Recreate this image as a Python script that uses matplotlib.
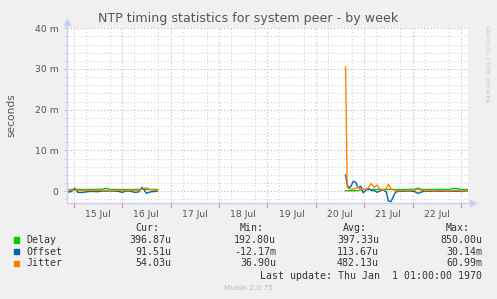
import matplotlib
matplotlib.use('Agg')
import matplotlib.pyplot as plt
import matplotlib.transforms as mtransforms
from matplotlib.ticker import MultipleLocator, FixedLocator, FuncFormatter
from matplotlib.patches import Rectangle

# hours since 15 Jul 00:00, values in milliseconds
hours_a = [-3.5, -1, 0.5, 2, 4, 6, 8, 10, 12, 14, 16, 18, 20, 22, 24, 26,
           28, 30, 32, 34, 36, 38, 40, 41.5]
delay_a = [0.3, 0.4, 0.4, 0.4, 0.4, 0.4, 0.4, 0.4, 0.45, 0.4, 0.7, 0.4,
           0.4, 0.4, 0.4, 0.4, 0.4, 0.4, 0.4, 0.45, 0.4, 0.4, 0.4, 0.4]
offset_a = [-0.3, -0.1, 0.7, -0.3, -0.35, -0.2, -0.1, -0.1, -0.15, 0.0, 0.0,
            0.05, 0.0, -0.05, -0.3, 0.0, 0.0, -0.3, -0.25, 0.9, -0.55, -0.2,
            -0.1, 0.0]
jitter_a = [0.2, 0.2, 0.25, 0.2, 0.15, 0.2, 0.15, 0.2, 0.2, 0.15, 0.2, 0.2,
            0.15, 0.2, 0.2, 0.15, 0.2, 0.2, 0.2, 0.5, 0.8, 0.3, 0.2, 0.15]

hours_b = [134.8, 135.6, 136.5, 137.5, 138.6, 139.8, 141, 142.3, 143.5, 144.7,
           146, 147.5, 149, 150.5, 152, 153.5, 155, 156, 157.3, 158.4, 159.6,
           161, 163, 165, 167, 169, 170.7, 172, 174, 176, 178, 180, 182, 184,
           186, 188, 190, 192, 194, 195.5]
delay_b = [0.1, 0.1, 0.1, 0.1, 0.1, 0.1, 0.15, 0.3, 0.4, 0.4, 0.4, 0.4, 0.4,
           0.4, 0.4, 0.4, 0.4, 0.4, 0.4, 0.4, 0.4, 0.4, 0.4, 0.4, 0.4, 0.45,
           0.75, 0.45, 0.4, 0.4, 0.4, 0.4, 0.45, 0.4, 0.4, 0.65, 0.6, 0.4, 0.4,
           0.4]
offset_b = [3.9, 1.5, 0.8, 1.2, 2.4, 2.2, 0.8, 1.2, -0.4, 0.1, 0.6, 0.2, 0.1,
            -0.3, 0.1, 0.3, -0.2, -2.4, -2.6, -1.4, -0.3, 0.0, -0.05, 0.0, 0.0,
            -0.1, -0.55, -0.3, 0.0, -0.05, 0.0, 0.0, -0.05, 0.0, 0.0, 0.0,
            -0.05, 0.0, 0.0, 0.05]
jitter_b = [30.5, 0.9, 0.6, 0.5, 0.55, 0.65, 1.1, 0.4, 0.5, 0.4, 0.8, 1.9,
            0.9, 1.5, 0.3, 0.3, 0.6, 1.7, 0.6, 0.3, 0.2, 0.15, 0.15, 0.15,
            0.15, 0.2, 0.5, 0.2, 0.15, 0.15, 0.15, 0.15, 0.15, 0.15, 0.15,
            0.2, 0.15, 0.15, 0.15, 0.15]

day_labels = ['15 Jul', '16 Jul', '17 Jul', '18 Jul', '19 Jul', '20 Jul',
              '21 Jul', '22 Jul']

series = [('Delay', '#00cc00', delay_a, delay_b),
          ('Offset', '#0066b3', offset_a, offset_b),
          ('Jitter', '#ff8000', jitter_a, jitter_b)]
stats = [('396.87u', '192.80u', '397.33u', '850.00u'),
         ('91.51u', '-12.17m', '113.67u', '30.14m'),
         ('54.03u', '36.90u', '482.13u', '60.99m')]

W, H = 497, 299
fig = plt.figure(figsize=(W / 100, H / 100), dpi=100, facecolor='#f0f0f0')


def fx(px):
    return px / W


def fy(py):
    return 1 - py / H


ax = fig.add_axes([fx(66.7), fy(203.3), fx(468) - fx(66.7), fy(28.3) - fy(203.3)])
ax.set_facecolor('white')
ax.set_xlim(-3.5, 195.5)
ax.set_ylim(-3.0, 40.0)

for name, color, ya, yb in series:
    ax.plot(hours_a, ya, color=color, lw=1.0)
    ax.plot(hours_b, yb, color=color, lw=1.0)

# grid: gray every 6h / 2 ms, red every day / 10 ms
ax.xaxis.set_minor_locator(MultipleLocator(6))
ax.yaxis.set_minor_locator(MultipleLocator(2))
ax.grid(which='minor', color='#d4d4d4', linestyle=(0, (1, 2)), lw=0.8)
ax.yaxis.set_major_locator(MultipleLocator(10))
ax.grid(which='major', axis='y', color='#eba3a3', linestyle=(0, (1, 2)), lw=0.8)
trans = mtransforms.blended_transform_factory(ax.transData, ax.transAxes)
for d in range(9):
    ax.axvline(d * 24, color='#eba3a3', linestyle=(0, (1, 2)), lw=0.8, zorder=0.5)
    # small red tick below the time axis
    ax.plot([d * 24, d * 24], [0, -0.02], color='#e88a8a', lw=0.8,
            transform=trans, clip_on=False)
ax.set_axisbelow(True)

ax.xaxis.set_major_locator(FixedLocator([12 + 24 * i for i in range(len(day_labels))]))
ax.set_xticklabels(day_labels)
ax.yaxis.set_major_formatter(FuncFormatter(lambda v, p: '0' if v == 0 else f'{int(v)} m'))
ax.tick_params(axis='x', which='both', length=0, pad=5, labelsize=6.7, labelcolor='#555555')
ax.tick_params(axis='y', which='major', length=2, pad=4, labelsize=6.7,
               labelcolor='#555555', color='#c0c0c0')
ax.tick_params(axis='y', which='minor', length=2, color='#d0d0d0')

for s in ['top', 'right']:
    ax.spines[s].set_visible(False)
axis_col = '#c8d0f4'
for s in ['left', 'bottom']:
    ax.spines[s].set_color(axis_col)
    ax.spines[s].set_linewidth(1.0)
ax.plot([0, 0], [1.0, 1.035], color=axis_col, lw=1.0, transform=ax.transAxes, clip_on=False)
ax.plot([1.0, 1.012], [0, 0], color=axis_col, lw=1.0, transform=ax.transAxes, clip_on=False)
ax.plot([0], [1.035], marker='^', ms=5, color=axis_col, transform=ax.transAxes, clip_on=False)
ax.plot([1.012], [0], marker='>', ms=5, color=axis_col, transform=ax.transAxes, clip_on=False)

fig.text(fx(248), fy(18.5), 'NTP timing statistics for system peer - by week',
         ha='center', va='center', fontsize=9.1, color='#555555')
fig.text(fx(11), fy(114.7), 'seconds', rotation=90, ha='center', va='center',
         fontsize=7.7, color='#555555')
fig.text(fx(487), fy(25), 'RRDTOOL / TOBI OETIKER', rotation=-90, ha='center',
         va='top', fontsize=4.3, color='#c4c4c4')

mono = dict(family='DejaVu Sans Mono', fontsize=7.1, color='#333333', va='center')
col_right = [171.7, 276, 379, 482.3]
headers = ['Cur:', 'Min:', 'Avg:', 'Max:']
for h, xr in zip(headers, col_right):
    fig.text(fx(xr - 12.5), fy(227.7), h, ha='right', **mono)

row_y = [240, 251.7, 263.3]
for (name, color, _, _), vals, yy in zip(series, stats, row_y):
    fig.patches.append(Rectangle((fx(14), fy(yy + 2.7)), fx(5.4), 5.4 / H,
                                 transform=fig.transFigure, color=color))
    fig.text(fx(26), fy(yy), name, ha='left', **mono)
    for v, xr in zip(vals, col_right):
        fig.text(fx(xr), fy(yy), v, ha='right', **mono)

fig.text(fx(482.3), fy(275.7), 'Last update: Thu Jan  1 01:00:00 1970', ha='right', **mono)
fig.text(fx(248), fy(288.3), 'Munin 2.0.75', ha='center', va='center',
         fontsize=5.4, color='#bbbbbb')

fig.savefig('out.png', dpi=100, facecolor=fig.get_facecolor())
